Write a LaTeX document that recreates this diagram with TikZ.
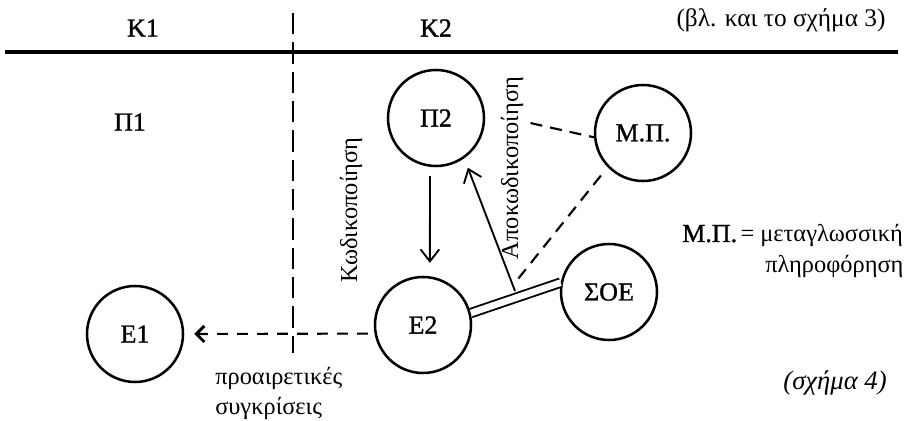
\documentclass[tikz,border=0pt]{standalone}
\usepackage{fontspec}
\setmainfont{Liberation Serif}
\newfontfamily\lblfont[FakeBold=1.2]{Liberation Serif}
\usetikzlibrary{arrows.meta}
\tikzset{
  lbl/.style={font=\lblfont\fontsize{19.5}{21}\selectfont, inner sep=0pt},
  gtxt/.style={font=\fontsize{18.3}{20}\selectfont, inner sep=0pt},
  circ/.style={draw, circle, line width=1.9pt, minimum size=72pt, inner sep=0pt, font=\lblfont\fontsize{19.5}{21}\selectfont},
  solidarr/.style={line width=1.4pt, -{Straight Barb[length=9pt,width=14pt,line width=1.4pt]}},
  dashln/.style={line width=1.6pt, dash pattern=on 9pt off 6pt},
  dlink/.style={double, double distance=5pt, line width=1.4pt},
}
\begin{document}
\begin{tikzpicture}[x=0.75pt,y=-0.75pt]
\useasboundingbox (0,0) rectangle (914,421);
% divider lines
\coordinate (hl) at (5,52);
\coordinate (hr) at (898,52);
\coordinate (vtop) at (293,13);
\coordinate (vbot) at (293,353);
\draw[line width=2.6pt] (hl) -- (hr);
\draw[line width=1.8pt, dash pattern=on 16pt off 6pt] (vtop) -- (vbot);
% header labels
\node[lbl] (k1) at (143,28) {Κ1};
\node[lbl] (k2) at (436,28) {Κ2};
\node[gtxt, font=\fontsize{19}{21}\selectfont] (ref3) at (781,20) {(βλ. και το σχήμα 3)};
\node[lbl] (p1) at (130,122) {Π1};
% circles
\node[circ] (P2) at (436,118) {Π2};
\node[circ] (MP) at (643,133) {Μ.Π.};
\node[circ] (E2) at (423,325) {Ε2};
\node[circ] (E1) at (135,334) {Ε1};
\node[circ] (SOE) at (609,292) {ΣΟΕ};
% connectors
\draw[solidarr, shorten <=7pt, shorten >=10pt] (P2.-97) -- (E2.82);
\draw[dlink] (E2.14) -- (SOE.169);
\coordinate (dstart) at (515,291);
\draw[solidarr, shorten >=7.5pt] (dstart) -- (P2.-55);
\draw[dashln, shorten <=35pt] (P2.6) -- (MP.185);
\coordinate (mpend) at (518,279);
\draw[dashln, shorten <=8pt] (MP.224) -- (mpend);
\draw[line width=1.6pt, dash pattern=on 8pt off 7pt, shorten <=5pt, shorten >=7.5pt,
  -{Straight Barb[length=6pt,width=12pt,line width=2.2pt]}] (E2.190) -- (E1.east);
% rotated labels
\node[gtxt, rotate=90] (kod) at (351,210) {Κωδικοποίηση};
\node[gtxt, rotate=90] (apok) at (512,168) {Αποκωδικοποίηση};
% legend and notes
\node[anchor=west, inner sep=0pt] (leg1) at (682,236) {{\lblfont\fontsize{19.5}{21}\selectfont Μ.Π.} {\fontsize{18.3}{20}\selectfont = μεταγλωσσική}};
\node[gtxt, anchor=west] (leg2) at (765,266) {πληροφόρηση};
\node[gtxt, anchor=west] (opt1) at (215,378) {προαιρετικές};
\node[gtxt, anchor=west] (opt2) at (215,408) {συγκρίσεις};
\node[gtxt, font=\fontsize{20}{22}\selectfont\itshape] (fig4) at (835,383) {(σχήμα 4)};
\end{tikzpicture}
\end{document}
